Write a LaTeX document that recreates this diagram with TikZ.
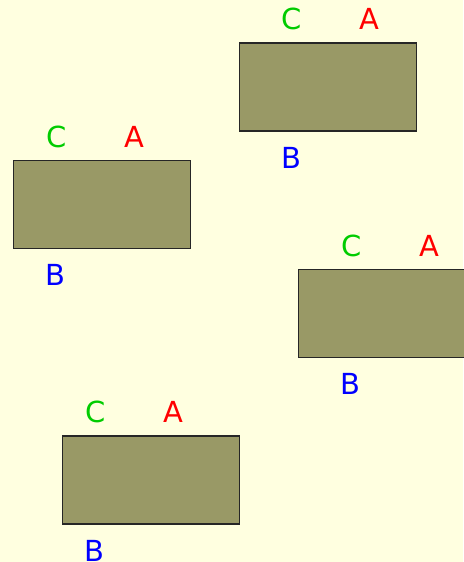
\documentclass[tikz,border=0pt]{standalone}
\usepackage{fontspec}
\setmainfont{DejaVu Sans}
\usetikzlibrary{positioning}
\definecolor{bgyellow}{HTML}{FFFFE0}
\definecolor{boxolive}{HTML}{999966}
\definecolor{lblgreen}{HTML}{00CC00}
\tikzset{
  box/.style={draw=black!85,fill=boxolive,line width=1.2pt,minimum width=177pt,minimum height=88pt,inner sep=0pt},
  lbl/.style={font=\fontsize{29}{29}\selectfont,inner sep=0pt},
}
\begin{document}
\begin{tikzpicture}[x=1pt,y=-1pt]
  \fill[bgyellow] (0,0) rectangle (463,562);
  \useasboundingbox (0,0) rectangle (463,562);
  % each box: name / centre x / centre y / label offset from the left edge
  \foreach \n/\x/\y/\o in {r1/328/87/53,r2/102/204.5/43.5,r3/387/313.5/53.5,r4/151/480/33.5} {
    \node[box] (\n) at (\x,\y) {};
    \node[lbl,text=lblgreen] (\n c) at ([xshift=\o pt,yshift=23pt]\n.north west) {C};
    \node[lbl,text=red] (\n a) at ([xshift=\o pt+78pt,yshift=23pt]\n.north west) {A};
    \node[lbl,text=blue] (\n b) at ([xshift=\o pt-0.5pt,yshift=-26pt]\n.south west) {B};
  }
\end{tikzpicture}
\end{document}
